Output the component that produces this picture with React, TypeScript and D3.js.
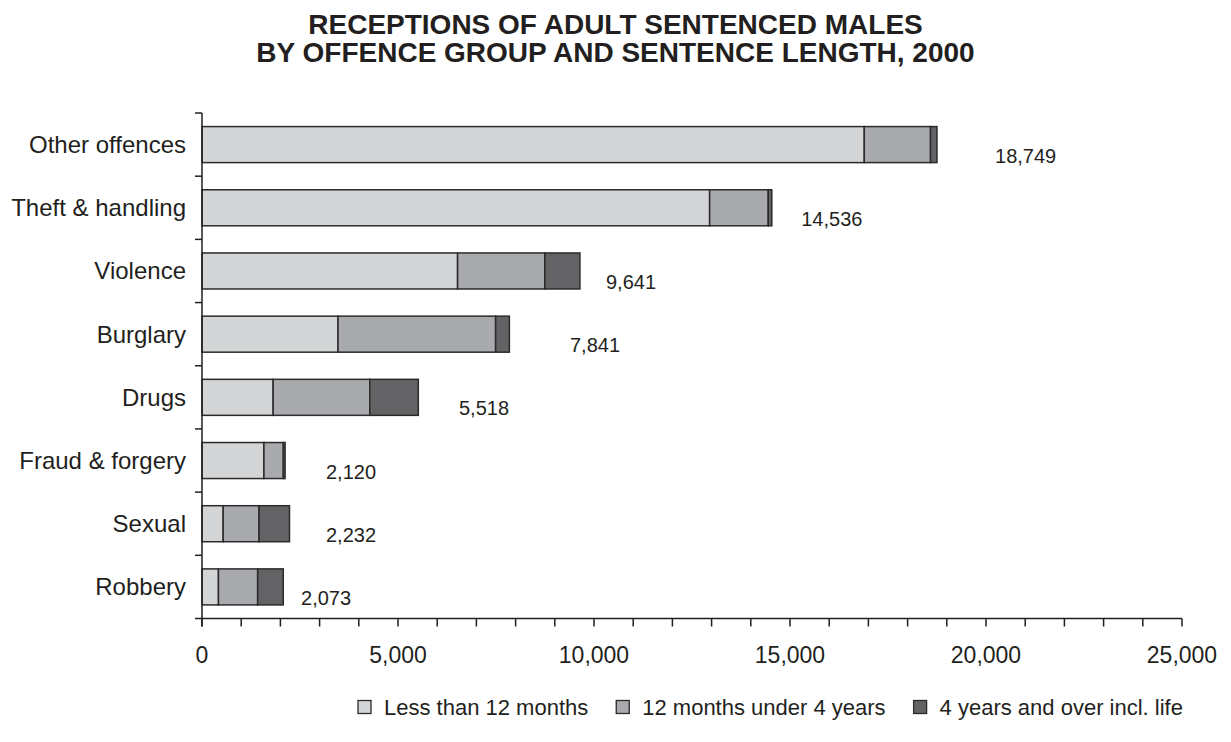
import React from "react";
import * as d3 from "d3";

const categories = [
  "Other offences",
  "Theft & handling",
  "Violence",
  "Burglary",
  "Drugs",
  "Fraud & forgery",
  "Sexual",
  "Robbery",
];
const lessThan12Months = [16895, 12950, 6520, 3470, 1815, 1580, 540, 420];
const months12Under4Years = [1690, 1495, 2225, 4020, 2465, 495, 915, 1000];
const years4AndOver = [164, 91, 896, 351, 1238, 45, 777, 653];
const totals = [18749, 14536, 9641, 7841, 5518, 2120, 2232, 2073];
const seriesNames = ["Less than 12 months", "12 months under 4 years", "4 years and over incl. life"];
const xTicks = [0, 5000, 10000, 15000, 20000, 25000];
// where each total label sits (in axis units), as placed in the original
const labelAnchor = [20230, 15287, 10306, 9388, 6556, 3163, 3163, 2526];

const W = 1231;
const H = 742;
const colors = ["#d4d5d7", "#a9aaad", "#636366"];
const ink = "#231f20";
const font = "'Liberation Sans', Arial, sans-serif";

export default function App() {
  const x = d3.scaleLinear().domain([0, 25000]).range([202, 1182]);
  const y = d3
    .scaleBand<string>()
    .domain(categories)
    .range([113, 618.5])
    .paddingInner(0.43)
    .paddingOuter(0.215);

  const rows = categories.map((c, i) => ({
    c,
    vals: [lessThan12Months[i], months12Under4Years[i], years4AndOver[i]],
  }));
  const stack = d3.stack<any>().keys(["0", "1", "2"]).value((d, k) => d.vals[+k]);
  const stacked = stack(rows);

  const step = y.step();
  const y0 = 113;
  const axisY = 618.5;
  const minorTicks = d3.range(0, 25001, 1000);

  const legendFont = 22;
  const legendGap = 28;
  const legendStart = 358;
  const measure = (s: string) => {
    if (typeof document === "undefined") return s.length * 10;
    const c = document.createElement("canvas").getContext("2d")!;
    c.font = `${legendFont}px 'Liberation Sans', Arial, sans-serif`;
    return c.measureText(s).width;
  };
  let cursor = legendStart;
  const legendItems = seriesNames.map((label) => {
    const item = { box: cursor, label };
    cursor += 26 + measure(label) + legendGap;
    return item;
  });

  return (
    <svg width={W} height={H} style={{ display: "block", position: "absolute", left: 0, top: 0 }} fontFamily={font}>
      <rect width={W} height={H} fill="#fff" />
      <text x={615.5} y={34} textAnchor="middle" fontWeight="bold" fontSize={28} fill={ink}>
        RECEPTIONS OF ADULT SENTENCED MALES
      </text>
      <text x={615.5} y={62} textAnchor="middle" fontWeight="bold" fontSize={28} fill={ink}>
        BY OFFENCE GROUP AND SENTENCE LENGTH, 2000
      </text>

      {stacked.map((s, si) =>
        s.map((d, i) => (
          <rect
            key={si + "-" + i}
            x={x(d[0])}
            y={y(categories[i])}
            width={Math.max(0, x(d[1]) - x(d[0]))}
            height={y.bandwidth()}
            fill={colors[si]}
            stroke="#2b2b2b"
            strokeWidth={1.5}
          />
        ))
      )}

      {/* y axis */}
      <line x1={202} x2={202} y1={y0} y2={axisY + 8} stroke={ink} strokeWidth={1.5} />
      {d3.range(categories.length + 1).map((i) => (
        <line key={"yt" + i} x1={195} x2={202} y1={y0 + i * step} y2={y0 + i * step} stroke={ink} strokeWidth={1.5} />
      ))}
      {categories.map((c) => (
        <text
          key={"yl" + c}
          x={186}
          y={(y(c) as number) + y.bandwidth() / 2}
          dy="0.35em"
          textAnchor="end"
          fontSize={24}
          fill={ink}
        >
          {c}
        </text>
      ))}

      {/* x axis */}
      <line x1={201} x2={x(25000)} y1={axisY} y2={axisY} stroke={ink} strokeWidth={1.5} />
      {minorTicks.map((t) => (
        <line key={"xt" + t} x1={x(t)} x2={x(t)} y1={axisY} y2={axisY + 8} stroke={ink} strokeWidth={1.5} />
      ))}
      {xTicks.map((t) => (
        <text key={"xl" + t} x={x(t)} y={663} textAnchor="middle" fontSize={23} fill={ink}>
          {d3.format(",")(t)}
        </text>
      ))}

      {/* total labels */}
      {totals.map((t, i) => (
        <text
          key={"tl" + i}
          x={x(labelAnchor[i])}
          y={(y(categories[i]) as number) + y.bandwidth() / 2 + 18}
          fontSize={20}
          fill={ink}
        >
          {d3.format(",")(t)}
        </text>
      ))}

      {/* legend */}
      {legendItems.map((l, i) => (
        <g key={"lg" + i}>
          <rect x={l.box} y={700.5} width={13} height={13} fill={colors[i]} stroke="#2b2b2b" strokeWidth={1.3} />
          <text x={l.box + 26} y={715} fontSize={legendFont} fill={ink}>
            {l.label}
          </text>
        </g>
      ))}
    </svg>
  );
}
